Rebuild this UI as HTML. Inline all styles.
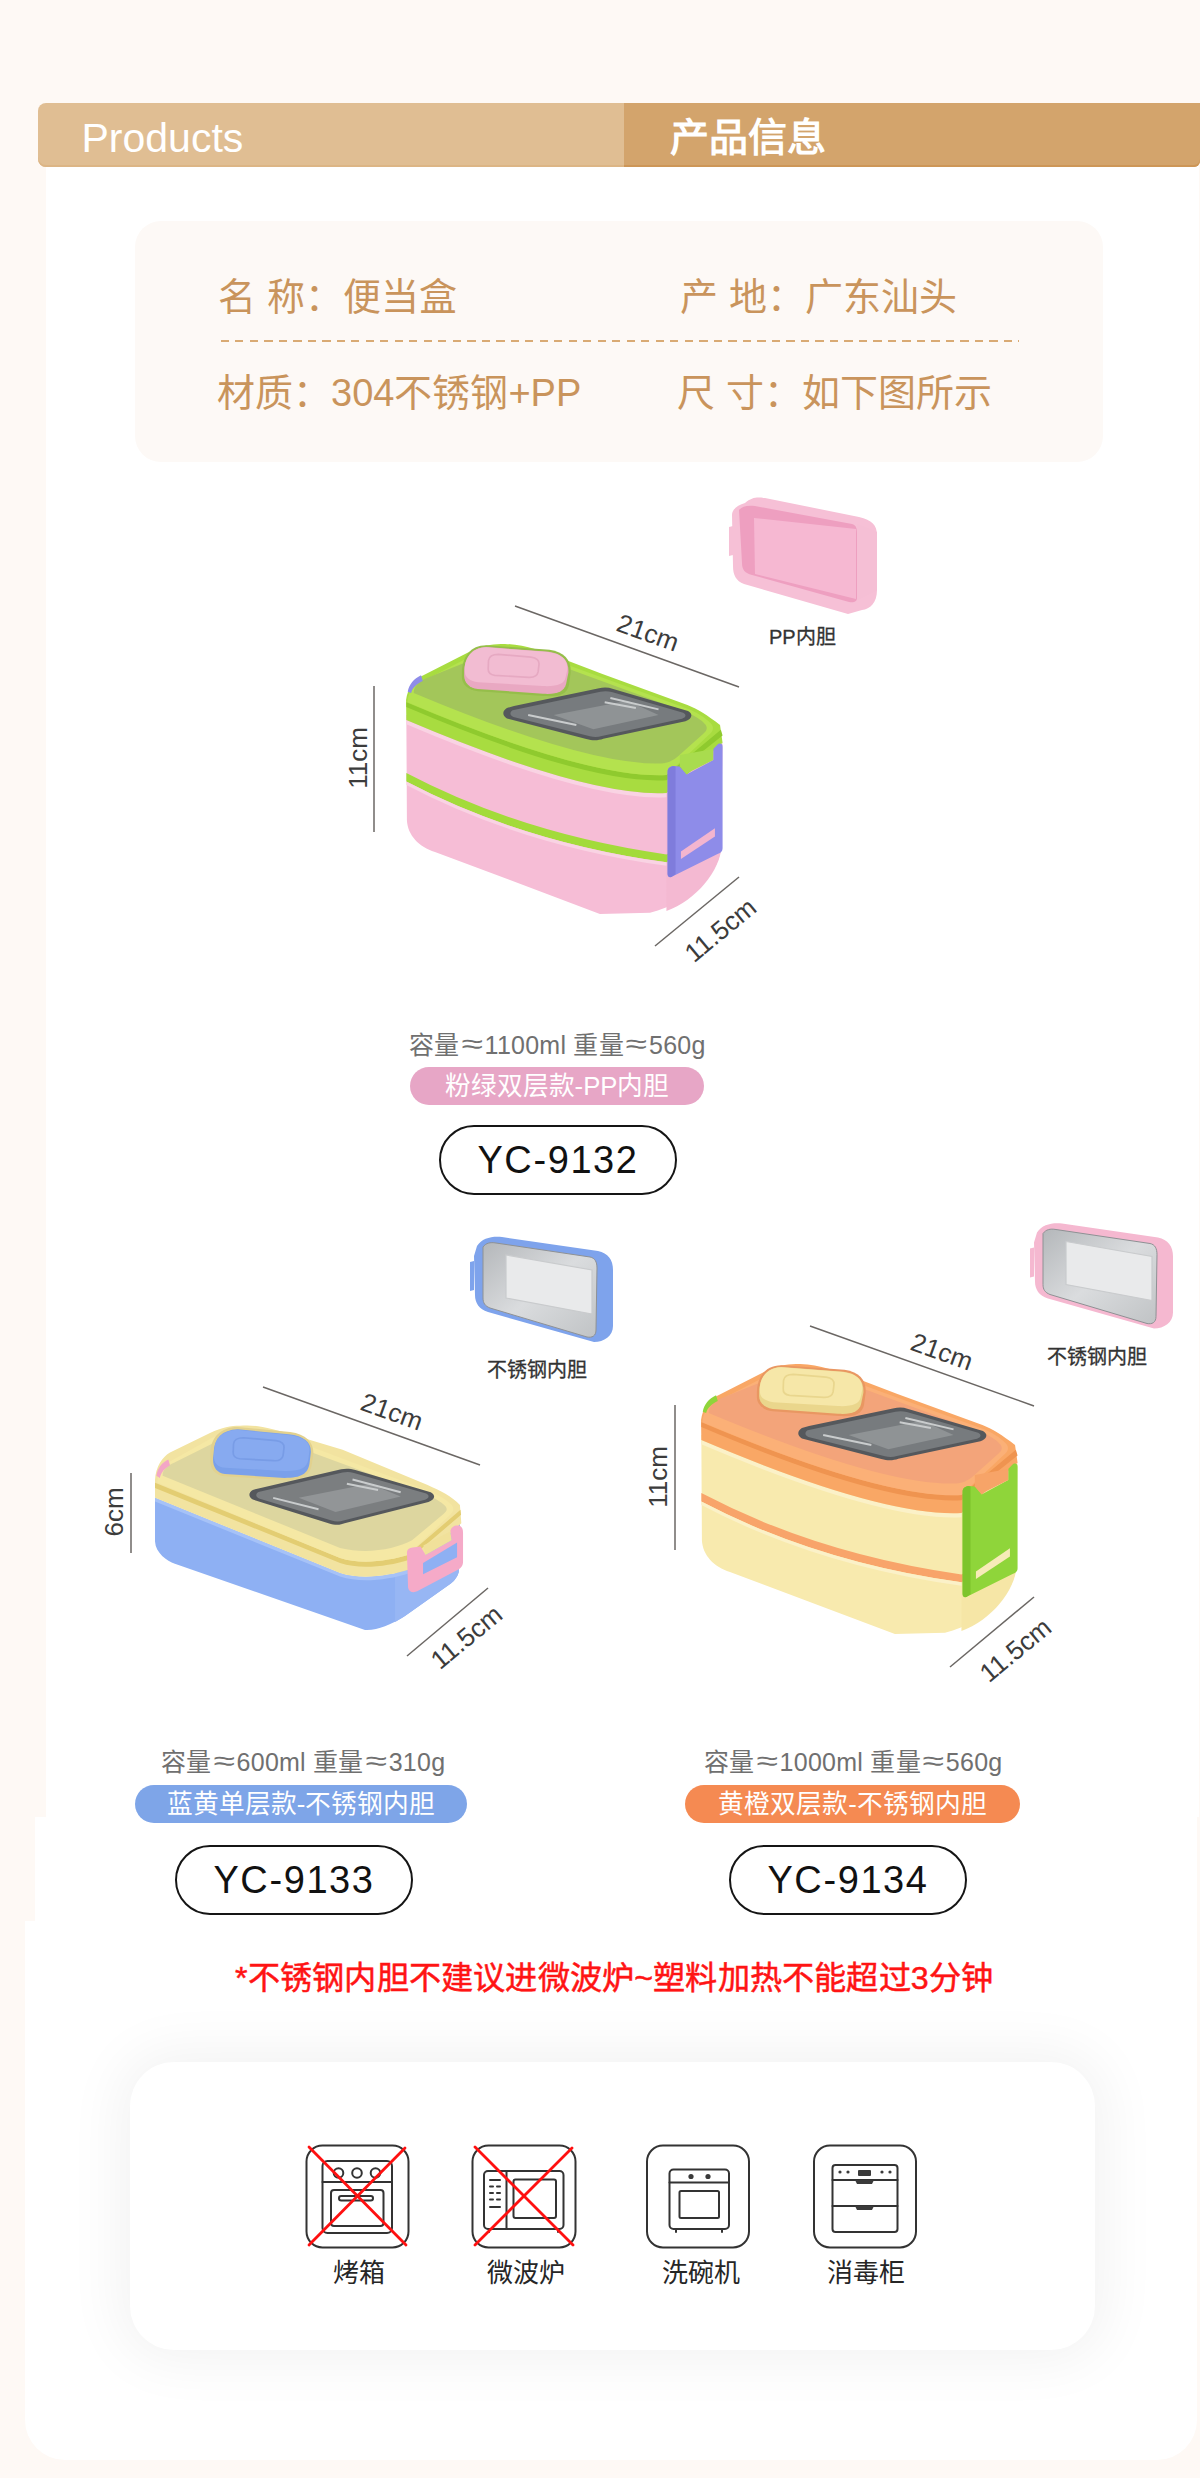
<!DOCTYPE html>
<html lang="zh-CN"><head><meta charset="utf-8">
<style>
html,body{margin:0;padding:0;}
body{width:1200px;height:2478px;position:relative;overflow:hidden;background:#fef9f5;font-family:"Liberation Sans",sans-serif;}
.abs{position:absolute;}
.t{position:absolute;white-space:nowrap;line-height:1;}
#panel{left:46px;top:160px;width:1153px;height:1657px;background:#fff;}
#panel2{left:35px;top:1817px;width:1162px;height:104px;background:#fff;}
#panel3{left:25px;top:1921px;width:1172px;height:539px;background:#fff;border-radius:0 0 40px 40px;}
#barL{left:38px;top:103px;width:600px;height:64px;background:#e0be93;border-radius:8px 0 0 8px;box-shadow:inset 0 -2px 0 #dcb585;}
#barR{left:624px;top:103px;width:576px;height:64px;background:#d3a46c;border-radius:0 0 6px 0;box-shadow:inset 0 -2px 0 #cd9657;}
.info{left:135px;top:221px;width:968px;height:241px;background:#fdf9f6;border-radius:26px;}
.itxt{font-size:38px;color:#c9945c;}
.dash{left:220.5px;top:340px;width:798.5px;height:2px;background:repeating-linear-gradient(90deg,#d9aa74 0 8px,transparent 8px 14.5px);}
.cap{font-size:25px;color:#707070;letter-spacing:0.25px;}
.ap{font-size:27px;margin:0 5px;display:inline-block;transform:scaleX(1.45);position:relative;top:-1px;}
.pill{position:absolute;border-radius:20px;color:#fff;font-size:25.7px;text-align:center;line-height:38px;height:38px;}
.yc{position:absolute;border:2px solid #151515;border-radius:36px;width:234px;height:66px;box-sizing:content-box;text-align:center;line-height:66px;font-size:38px;letter-spacing:1.6px;color:#111;}
.dim{font-size:26px;color:#333;}
.red{font-size:32.2px;color:#ff1414;letter-spacing:0.2px;-webkit-text-stroke:0.5px #ff1414;}
#card{left:130px;top:2062px;width:965px;height:288px;background:#fff;border-radius:44px;box-shadow:0 0 55px 12px rgba(0,0,0,0.05);}
.tl{font-size:20px;color:#333;-webkit-text-stroke:0.3px #333;}
.lbl{font-size:26px;color:#262626;}
</style></head>
<body>
<div class="abs" id="panel"></div>
<div class="abs" id="panel2"></div>
<div class="abs" id="panel3"></div>
<div class="abs" id="barL"></div>
<div class="abs" id="barR"></div>
<div class="t" style="left:81.5px;top:118px;font-size:41px;color:#fff;">Products</div>
<div class="t" style="left:670px;top:117.5px;font-size:39px;color:#fff;font-weight:bold;">产品信息</div>

<div class="abs info"></div>
<div class="t itxt" style="left:218px;top:277.5px;">名 称：便当盒</div>
<div class="t itxt" style="left:680px;top:277.5px;">产 地：广东汕头</div>
<div class="abs dash"></div>
<div class="t itxt" style="left:217px;top:374px;">材质：304不锈钢+PP</div>
<div class="t itxt" style="left:677px;top:374px;">尺 寸：如下图所示</div>

<div class="t tl" style="left:769px;top:626.5px;">PP内胆</div>
<div class="t tl" style="left:487px;top:1359.5px;">不锈钢内胆</div>
<div class="t tl" style="left:1047px;top:1346.5px;">不锈钢内胆</div>
<!-- product 1 texts -->
<div class="t cap" style="left:409px;top:1032px;">容量<span class="ap">≈</span>1100ml 重量<span class="ap">≈</span>560g</div>
<div class="pill" style="left:410px;top:1067px;width:294px;background:#e7a6c6;">粉绿双层款-PP内胆</div>
<div class="yc" style="left:439px;top:1125px;">YC-9132</div>

<div class="t cap" style="left:161px;top:1749px;">容量<span class="ap">≈</span>600ml 重量<span class="ap">≈</span>310g</div>
<div class="pill" style="left:135px;top:1785px;width:332px;background:#7ea5e8;">蓝黄单层款-不锈钢内胆</div>
<div class="yc" style="left:175px;top:1845px;">YC-9133</div>

<div class="t cap" style="left:704px;top:1749px;">容量<span class="ap">≈</span>1000ml 重量<span class="ap">≈</span>560g</div>
<div class="pill" style="left:685px;top:1785px;width:335px;background:#f58a52;">黄橙双层款-不锈钢内胆</div>
<div class="yc" style="left:729px;top:1845px;">YC-9134</div>

<div class="t red" style="left:235px;top:1961.5px;">*不锈钢内胆不建议进微波炉~塑料加热不能超过3分钟</div>

<div class="abs" id="card"></div>
<div class="t lbl" style="left:333px;top:2259.5px;">烤箱</div>
<div class="t lbl" style="left:487px;top:2259.5px;">微波炉</div>
<div class="t lbl" style="left:662px;top:2259.5px;">洗碗机</div>
<div class="t lbl" style="left:827px;top:2259.5px;">消毒柜</div>

<svg class="abs" style="left:0;top:0" width="1200" height="2478" viewBox="0 0 1200 2478">
<defs>
<linearGradient id="steel" x1="0" y1="0" x2="1" y2="1">
<stop offset="0" stop-color="#b4b7ba"/><stop offset="0.5" stop-color="#dadcde"/><stop offset="1" stop-color="#c0c3c5"/>
</linearGradient>
<g id="tray">
<path d="M477,1246 C482,1238 492,1236 502,1237 L598,1251 C608,1253 613,1260 613,1270 L613,1326 C613,1336 604,1342 594,1342 L488,1312 C479,1309 475,1303 475,1295 L474,1256 Z" fill="var(--rim)"/>
<path d="M483,1247 C486,1243 490,1242 496,1243 L590,1257 C595,1258 597,1262 597,1268 L596,1330 C596,1336 592,1338 587,1337 L490,1308 C485,1306 483,1303 483,1298 Z" fill="url(#steel)" stroke="#8e9194" stroke-width="1"/>
<path d="M506,1255 L592,1270 L592,1314 L506,1298 Z" fill="#e9eaeb" stroke="#c9cbcd" stroke-width="1.2"/>
<path d="M470,1262 L474,1261 L474,1290 L470,1291 Z" fill="var(--rim)"/>
</g>
</defs>

<defs>
<g id="dbl">
 <path d="M40,300 L958,572 L1155,400 L1152,760 C1150,850 1050,960 900,998 L723,1002 L141,783 C85,765 45,725 42,671 Z" fill="var(--body)"/>
 <path d="M958,572 L1155,400 L1152,760 C1150,850 1060,955 958,992 Z" fill="var(--body2)"/>
 <path d="M40,318 Q680,590 958,575 L958,590 Q680,605 40,333 Z" fill="var(--hl)"/>
 <path d="M40,505 Q450,720 958,792 L1040,745 L1040,772 L958,820 Q450,750 40,535 Z" fill="var(--stripe)"/>
 <path d="M40,535 Q450,750 958,820 L958,832 Q450,762 40,547 Z" fill="var(--hl)"/>
 <path d="M40,318 L39,247 C45,205 65,180 88,166 L282,67 C320,52 350,49 388,49 C460,52 520,75 582,98 L732,155 L1032,265 C1070,280 1100,300 1147,335 L1156,398 L958,575 Q680,590 40,318 Z" fill="var(--band)"/>
 <path d="M40,255 Q680,525 958,512 L1150,352 L1156,372 L958,530 Q680,545 40,272 Z" fill="var(--band2)"/>
 <path d="M44,255 C44,222 68,196 95,182 L285,84 C322,68 352,64 388,64 C458,67 518,89 578,112 L1028,276 C1066,291 1094,308 1115,330 C1128,345 1122,360 1105,372 L958,512 Q680,525 44,255 Z" fill="var(--rim)"/>
 <path d="M66,222 C66,200 82,185 106,172 L292,97 C326,81 354,77 388,77 C455,80 515,101 573,123 L1022,288 C1055,301 1080,316 1096,334 C1104,346 1100,356 1088,366 L1000,445 C980,462 962,470 940,471 Q680,480 66,222 Z" fill="var(--top)"/>
 <path d="M236,152 C236,96 266,54 322,54 L545,70 C600,78 622,108 620,150 L614,194 C606,228 580,236 525,233 L292,216 C256,212 236,190 236,166 Z" fill="var(--recess)"/>
 <path d="M244,150 C244,100 270,62 322,60 L542,77 C592,84 614,110 612,150 L604,190 C597,218 572,228 522,225 L292,208 C262,205 244,184 244,162 Z" fill="var(--btn2)"/>
 <path d="M246,140 C246,98 272,62 322,61 L541,78 C590,85 610,106 608,140 L602,168 C596,192 572,200 522,198 L294,184 C264,181 247,166 247,150 Z" fill="var(--btn)"/>
 <path d="M330,108 C332,93 345,86 365,86 L480,96 C500,98 510,108 508,123 L505,148 C502,163 490,168 472,167 L352,160 C335,158 328,148 329,136 Z" fill="none" stroke="var(--btnline)" stroke-width="6"/>
 <path d="M395,275 C378,285 378,302 395,312 L675,385 C700,392 718,390 735,384 L1025,322 C1050,314 1052,296 1034,286 L770,208 C752,202 735,202 720,206 L420,268 Z" fill="#55585c"/>
 <path d="M415,283 C404,290 405,301 418,307 L688,375 C704,379 717,378 730,374 L1013,313 C1028,308 1029,298 1017,292 L765,219 C750,215 738,215 725,218 Z" fill="#777b7e"/>
 <path d="M560,300 L820,250 L930,300 L700,350 Z" fill="#8f9395"/>
 <path d="M760,240 L930,280 M740,255 L850,275 M470,300 L640,335" stroke="#c9cccd" stroke-width="7" fill="none"/>
 <path d="M45,218 C50,192 66,172 92,160 L98,180 C78,190 62,202 57,222 Z" fill="var(--clip)"/>
 <path d="M962,500 C962,488 970,482 982,480 L1005,482 L1029,510 L1123,459 L1123,420 L1140,402 C1150,398 1156,402 1156,412 L1156,770 C1156,780 1150,786 1140,790 L975,872 C966,874 962,868 962,860 Z" fill="var(--clip)"/>
 <path d="M962,500 C962,488 970,482 982,480 L990,482 L990,862 L975,872 C966,874 962,868 962,860 Z" fill="var(--clip2)"/>
 <path d="M1005,441 L1123,420 L1123,459 L1029,506 L1005,482 Z" fill="var(--hinge)"/>
 <path d="M1009,782 L1129,700 L1129,729 L1009,808 Z" fill="var(--mark)"/>
</g>
</defs>
<g transform="translate(395 630) scale(0.28337)" style="--body:#f6bdd6;--body2:#f4b9d2;--hl:#f9d3e3;--stripe:#a3db3a;--band:#a8dc40;--band2:#8fca2e;--rim:#b4e24e;--top:#a3c65a;--recess:#95be4a;--btn:#f2bcd2;--btn2:#e9a8c2;--btnline:#e6a9c2;--clip:#8e8ce9;--clip2:#7f7cdc;--hinge:#a9dc4e;--mark:#f3b5cf">
 <use href="#dbl"/>
</g>
<g transform="translate(690 1350) scale(0.28337)" style="--body:#f8eaae;--body2:#f6e6a6;--hl:#fbf1c8;--stripe:#f8a46a;--band:#f9a765;--band2:#ef9450;--rim:#fbb077;--top:#f3a47a;--recess:#e99762;--btn:#f6e7a8;--btn2:#ead68c;--btnline:#e9d68e;--clip:#8fd53a;--clip2:#7dc42c;--hinge:#f7a468;--mark:#f7ebb8">
 <use href="#dbl"/>
</g>

<!-- ============ PRODUCT 2 (blue/yellow single) ============ -->
<g id="p2" transform="translate(140 1410) scale(0.28337)">
 <path d="M53,310 L706,575 C780,600 880,585 945,565 L1129,400 L1125,572 C1120,590 1108,605 1097,612 L935,727 C880,760 840,778 794,776 L123,543 C95,532 55,505 53,464 Z" fill="#8eb0f3"/>
 <path d="M900,578 L1129,400 L1125,572 C1120,590 1108,605 1097,612 L935,727 C920,737 908,744 900,748 Z" fill="#97b6f4"/>
 <path d="M53,310 L706,575 C780,600 880,585 945,565 L945,578 C880,598 780,613 706,588 L53,323 Z" fill="#a6c2f7"/>
 <path d="M53,310 L53,247 C55,200 80,165 106,150 L247,81 C290,62 320,56 353,56 C400,50 450,60 565,95 L715,140 L1015,265 C1060,285 1100,305 1129,335 L1134,400 L945,565 C880,585 780,600 706,575 Z" fill="#f2e3a0"/>
 <path d="M53,257 L706,522 C780,547 880,532 945,512 L1131,352 L1133,370 L945,530 C880,550 780,565 706,540 L53,275 Z" fill="#e3cd72"/>
 <path d="M62,257 C58,222 85,192 112,178 L252,100 C292,80 322,74 353,74 C398,70 445,80 558,113 L1008,281 C1050,298 1082,315 1100,335 C1110,348 1106,360 1092,372 L945,512 C880,532 780,547 706,522 Z" fill="#f5e8a4"/>
 <path d="M80,232 C78,210 98,196 120,186 L258,117 C295,97 324,91 353,91 C396,88 442,98 552,130 L1000,295 C1036,309 1062,323 1078,340 C1086,350 1082,358 1072,366 L960,460 C900,492 800,510 706,487 Z" fill="#ddd69f"/>
 <path d="M248,152 C250,98 284,60 345,60 L530,78 C586,86 612,114 612,152 L606,195 C598,232 572,248 512,248 L298,234 C264,229 246,206 248,176 Z" fill="#e2d18e"/>
 <path d="M260,150 C262,100 290,70 345,68 L525,86 C580,92 605,115 603,150 L598,190 C592,225 570,240 510,240 L300,226 C270,222 256,200 258,170 Z" fill="#7aa0ea"/>
 <path d="M262,140 C264,98 292,72 345,70 L523,88 C575,94 600,112 598,142 L594,175 C588,205 568,216 510,215 L302,204 C272,201 260,185 261,162 Z" fill="#87aaf0"/>
 <path d="M330,120 C332,105 345,98 365,98 L480,108 C500,110 510,120 508,135 L505,160 C502,175 490,180 472,179 L352,172 C335,170 328,160 329,148 Z" fill="none" stroke="#789ce6" stroke-width="6"/>
 <path d="M398,282 C382,292 382,306 398,316 L665,400 C690,408 708,406 722,400 L1018,325 C1042,316 1044,300 1026,290 L760,212 C742,206 725,206 710,209 L422,276 Z" fill="#55585c"/>
 <path d="M418,289 C407,296 408,306 420,312 L676,390 C692,395 706,394 718,390 L1006,317 C1022,311 1022,301 1010,295 L755,222 C740,218 728,218 715,221 Z" fill="#7b7e80"/>
 <path d="M560,310 L810,260 L920,305 L690,360 Z" fill="#929597"/>
 <path d="M750,245 L920,290 M730,260 L840,282 M470,310 L630,350" stroke="#c9cccd" stroke-width="7" fill="none"/>
 <path d="M58,232 C62,205 78,185 100,175 L106,195 C88,205 74,220 70,240 Z" fill="#f3a6c6"/>
 <path d="M942,505 C942,492 950,486 962,485 L990,482 L1008,512 L1100,460 L1095,428 C1098,412 1112,405 1126,408 C1136,411 1140,420 1140,432 L1140,535 C1140,550 1134,558 1120,565 L978,640 C962,647 948,640 946,626 Z" fill="#f5aac8"/>
 <path d="M1008,512 L1100,460 L1095,428 L1000,478 Z" fill="#f1e19a"/>
 <path d="M999,540 L1119,468 L1119,520 L999,580 Z" fill="#8eb0f3"/>
</g>

<!-- trays -->
<g style="--rim:#f3b6cf">
 <path d="M745,503 C752,497 757,497 765,498 L859,517 C872,520 877,525 877,535 L877,590 C877,603 870,609 862,610 L848,614 L744,584 C736,581 733,575 733,566 L732,515 C732,509 738,505 745,503 Z" fill="#f6c0d6"/>
 <path d="M739,510 C742,506 748,505 755,506 L852,524 C856,525 857,528 857,533 L857,598 C857,602 853,603 849,602 L752,575 C745,573 742,570 742,563 Z" fill="#ee9fc0"/>
 <path d="M857,524 L877,532 L877,590 L857,600 Z" fill="#f5bfd5"/>
 <path d="M754,518 L856,529 L856,599 L755,574 Z" fill="#f6b8d2"/>
 <path d="M729,527 L733,526 L733,555 L729,556 Z" fill="#f6c0d6"/>
</g>
<g style="--rim:#7ea3ec"><use href="#tray"/></g>
<g style="--rim:#f5b8d0" transform="translate(560 -13.5)"><use href="#tray"/></g>

<!-- dimension lines -->
<g stroke="#6b6764" stroke-width="1.5" fill="none">
 <line x1="515" y1="606" x2="739" y2="687"/>
 <line x1="374" y1="686" x2="374" y2="832"/>
 <line x1="655" y1="946" x2="739" y2="877"/>
 <line x1="263" y1="1387" x2="480" y2="1465"/>
 <line x1="131" y1="1473" x2="131" y2="1553"/>
 <line x1="407" y1="1656" x2="488" y2="1588"/>
 <line x1="810" y1="1326" x2="1034" y2="1406"/>
 <line x1="675" y1="1405" x2="675" y2="1550"/>
 <line x1="950" y1="1667" x2="1034" y2="1597"/>
</g>
<g fill="#3c3c3c" font-family="Liberation Sans, sans-serif" font-size="26">
 <text x="0" y="0" text-anchor="middle" transform="translate(645 641) rotate(19.8)">21cm</text>
 <text x="0" y="0" text-anchor="middle" transform="translate(367 758) rotate(-90)">11cm</text>
 <text x="0" y="0" text-anchor="middle" transform="translate(726 937) rotate(-39.6)">11.5cm</text>
 <text x="0" y="0" text-anchor="middle" transform="translate(389 1420) rotate(19.8)">21cm</text>
 <text x="0" y="0" text-anchor="middle" transform="translate(123 1512) rotate(-90)">6cm</text>
 <text x="0" y="0" text-anchor="middle" transform="translate(472 1644) rotate(-39.6)">11.5cm</text>
 <text x="0" y="0" text-anchor="middle" transform="translate(939 1360) rotate(19.8)">21cm</text>
 <text x="0" y="0" text-anchor="middle" transform="translate(667 1477) rotate(-90)">11cm</text>
 <text x="0" y="0" text-anchor="middle" transform="translate(1021 1657) rotate(-39.6)">11.5cm</text>
</g>
<!-- icons -->
<g fill="none" stroke="#333" stroke-width="2" stroke-linejoin="round" stroke-linecap="round">
 <!-- oven -->
 <rect x="306.5" y="2145.5" width="102" height="102" rx="16"/>
 <rect x="322.5" y="2161" width="69.5" height="72" rx="5"/>
 <line x1="322.5" y1="2182" x2="392" y2="2182"/>
 <circle cx="338.5" cy="2173" r="4.8"/><circle cx="357" cy="2173" r="4.8"/><circle cx="375.5" cy="2173" r="4.8"/>
 <rect x="331" y="2190" width="52.5" height="36" rx="3"/>
 <rect x="339" y="2196" width="34" height="4.5" rx="2.2"/>
 <!-- microwave -->
 <rect x="472.5" y="2145.5" width="103" height="102" rx="16"/>
 <rect x="484" y="2171" width="79.5" height="58" rx="4"/>
 <line x1="506.5" y1="2171" x2="506.5" y2="2229"/>
 <rect x="513.5" y="2179.5" width="42.5" height="38.5" rx="2"/>
 <line x1="490" y1="2180" x2="500" y2="2180"/><line x1="490" y1="2186.5" x2="493" y2="2186.5"/><line x1="497" y1="2186.5" x2="500" y2="2186.5"/>
 <line x1="490" y1="2193" x2="493" y2="2193"/><line x1="497" y1="2193" x2="500" y2="2193"/>
 <line x1="490" y1="2199.5" x2="493" y2="2199.5"/><line x1="497" y1="2199.5" x2="500" y2="2199.5"/>
 <line x1="490" y1="2207" x2="500" y2="2207"/>
 <line x1="489" y1="2229" x2="489" y2="2232"/><line x1="558" y1="2229" x2="558" y2="2232"/>
 <!-- dishwasher -->
 <rect x="647" y="2145.5" width="102" height="102" rx="16"/>
 <rect x="669.5" y="2169.5" width="59.5" height="59.5" rx="4"/>
 <line x1="669.5" y1="2182.5" x2="729" y2="2182.5"/>
 <rect x="679.5" y="2191" width="39.5" height="27" rx="1.5"/>
 <line x1="676" y1="2229" x2="676" y2="2232"/><line x1="722" y1="2229" x2="722" y2="2232"/>
 <!-- sterilizer -->
 <rect x="814" y="2145.5" width="102" height="102" rx="16"/>
 <rect x="832.5" y="2165" width="65" height="67" rx="3"/>
 <line x1="832.5" y1="2180" x2="897.5" y2="2180"/>
 <line x1="832.5" y1="2206" x2="897.5" y2="2206"/>
</g>
<g fill="#3a3a3a">
 <circle cx="691" cy="2176.5" r="2.6"/><circle cx="708" cy="2176.5" r="2.6"/>
 <rect x="858" y="2170" width="13" height="6" rx="1"/>
 <circle cx="840" cy="2172" r="1.6"/><circle cx="848" cy="2172" r="1.6"/><circle cx="882" cy="2172" r="1.6"/><circle cx="890" cy="2172" r="1.6"/>
 <path d="M855,2180 L874,2180 L872,2184 L857,2184 Z"/>
 <path d="M855,2206 L874,2206 L872,2210 L857,2210 Z"/>
</g>
<g stroke="#ff1010" stroke-width="2.8" stroke-linecap="round">
 <line x1="309" y1="2147" x2="406" y2="2245"/><line x1="405" y1="2148" x2="309" y2="2245"/>
 <line x1="475" y1="2147" x2="573" y2="2245"/><line x1="572" y1="2148" x2="475" y2="2245"/>
</g>

</svg>
</body></html>
